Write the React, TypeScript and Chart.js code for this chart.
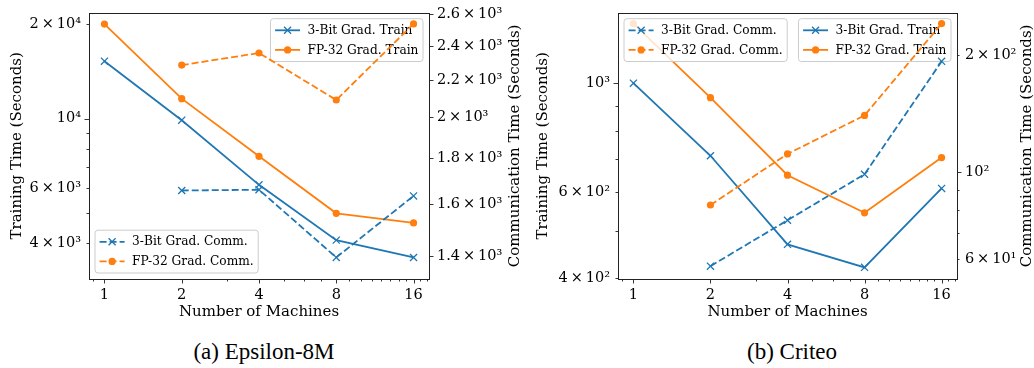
import React, { useEffect, useRef } from 'react';
import { Chart, registerables } from 'chart.js';

Chart.register(...registerables);

const BLUE = '#1f77b4';
const ORANGE = '#ff7f0e';
const SERIF = '"DejaVu Serif", serif';
const TICK_SIZE = 14.5;
const TITLE_SIZE = 15;
const LEGEND_SIZE = 12.2;

// ---------------- data ----------------
const machines = [1, 2, 4, 8, 16];
const commMachines = [2, 4, 8, 16];

// (a) Epsilon-8M
const epsilon3BitTrain = [15230, 9880, 6150, 4100, 3610];
const epsilonFp32Train = [20000, 11570, 7580, 4990, 4650];
const epsilon3BitComm = [1657, 1660, 1396, 1634];
const epsilonFp32Comm = [2284, 2356, 2089, 2538];

// (b) Criteo
const criteo3BitTrain = [1000, 711, 469, 421, 610];
const criteoFp32Train = [1322, 934, 649, 544, 705];
const criteo3BitComm = [57.5, 75.4, 98.9, 192.6];
const criteoFp32Comm = [82.5, 111.5, 140, 240.7];

const seriesLabels = ['3-Bit Grad. Train', 'FP-32 Grad. Train', '3-Bit Grad. Comm.', 'FP-32 Grad. Comm.'];
const captions = ['(a) Epsilon-8M', '(b) Criteo'];

// ticks
const xTickValues = [1, 2, 4, 8, 16];
const xTickLabels = ['1', '2', '4', '8', '16'];
const xMinorTickValues = [0.9, 3, 5, 6, 7, 9, 10, 11, 12, 13, 14, 15, 17, 18];

const epsilonTrainTickValues = [20000, 10000, 9000, 8000, 7000, 6000, 5000, 4000];
const epsilonTrainTickLabels = ['2\u2009×\u200910⁴', '10⁴', '', '', '', '6\u2009×\u200910³', '', '4\u2009×\u200910³'];
const epsilonTrainMajor = [10000];

const epsilonCommTickValues = [2600, 2400, 2200, 2000, 1800, 1600, 1400];
const epsilonCommTickLabels = ['2.6\u2009×\u200910³', '2.4\u2009×\u200910³', '2.2\u2009×\u200910³', '2\u2009×\u200910³', '1.8\u2009×\u200910³', '1.6\u2009×\u200910³', '1.4\u2009×\u200910³'];
const epsilonCommMajor = [2600, 2400, 2200, 2000, 1800, 1600, 1400];

const criteoTrainTickValues = [1000, 900, 800, 700, 600, 500, 400];
const criteoTrainTickLabels = ['10³', '', '', '', '6\u2009×\u200910²', '', '4\u2009×\u200910²'];
const criteoTrainMajor = [1000];

const criteoCommTickValues = [200, 100, 90, 80, 70, 60];
const criteoCommTickLabels = ['2\u2009×\u200910²', '10²', '', '', '', '6\u2009×\u200910¹'];
const criteoCommMajor = [100];

// axis ranges
const xRange = [Math.pow(2, -0.2), 16 * Math.pow(2, 0.2)];
const epsilonTrainRange = [3083, 21733];
const epsilonCommRange = [1321, 2612];
const criteoTrainRange = [398.6, 1392];
const criteoCommRange = [53.3, 256.7];

type AxisTicks = { values: number[]; labels: string[]; major: number[] };
type Corner = 'top-left' | 'top-right' | 'bottom-left' | 'bottom-right';

const CANVAS_H = 330;
const PLOT_BOTTOM = 279;

function labelFor(t: AxisTicks, v: number) {
  const i = t.values.findIndex((u) => Math.abs(u - v) / u < 1e-6);
  return i >= 0 ? t.labels[i] : '';
}

function drawLegend(chart: any, items: { label: string; color: string; dashed: boolean; marker: string }[], corner: Corner) {
  const ctx = chart.ctx as CanvasRenderingContext2D;
  const a = chart.chartArea;
  ctx.save();
  ctx.font = `${LEGEND_SIZE}px ${SERIF}`;
  const textW = Math.max(...items.map((it) => ctx.measureText(it.label).width));
  const pad = 4.6, handle = 25, gap = 7.5, rowH = 14, sp = 5.6, m = 6;
  const w = pad + handle + gap + textW + pad;
  const h = 2 * pad + items.length * rowH + (items.length - 1) * sp;
  const x = corner.endsWith('right') ? a.right - m - w : a.left + m;
  const y = corner.startsWith('top') ? a.top + m : a.bottom - m - h;
  ctx.beginPath();
  (ctx as any).roundRect(x, y, w, h, 3);
  ctx.fillStyle = 'rgba(255,255,255,0.8)';
  ctx.fill();
  ctx.strokeStyle = '#cccccc';
  ctx.lineWidth = 1;
  ctx.stroke();
  items.forEach((it, i) => {
    const cy = y + pad + rowH / 2 + i * (rowH + sp);
    const hx0 = x + pad, hx1 = hx0 + handle, cx = (hx0 + hx1) / 2;
    ctx.strokeStyle = it.color;
    ctx.lineWidth = 1.8;
    ctx.setLineDash(it.dashed ? [7, 3] : []);
    ctx.beginPath();
    ctx.moveTo(hx0, cy);
    ctx.lineTo(hx1, cy);
    ctx.stroke();
    ctx.setLineDash([]);
    if (it.marker === 'circle') {
      ctx.fillStyle = it.color;
      ctx.beginPath();
      ctx.arc(cx, cy, 3.6, 0, Math.PI * 2);
      ctx.fill();
    } else {
      ctx.lineWidth = 1.3;
      ctx.beginPath();
      ctx.moveTo(cx - 3.5, cy - 3.5); ctx.lineTo(cx + 3.5, cy + 3.5);
      ctx.moveTo(cx - 3.5, cy + 3.5); ctx.lineTo(cx + 3.5, cy - 3.5);
      ctx.stroke();
    }
    ctx.fillStyle = '#000';
    ctx.textBaseline = 'middle';
    ctx.textAlign = 'left';
    ctx.fillText(it.label, hx1 + gap, cy + 0.5);
  });
  ctx.restore();
}

interface PanelParams {
  train: number[][];
  comm: number[][];
  yRange: number[];
  y2Range: number[];
  yTicks: AxisTicks;
  y2Ticks: AxisTicks;
  leftW: number;
  rightW: number;
  leftTitlePad: number;
  rightTitleOffset: number;
  trainCorner: Corner;
  commCorner: Corner;
}

function buildConfig(p: PanelParams): any {
  const colors = [BLUE, ORANGE, BLUE, ORANGE];
  const markers = ['crossRot', 'circle', 'crossRot', 'circle'];
  const dashed = [false, false, true, true];
  const seriesData = [
    machines.map((m, i) => ({ x: m, y: p.train[0][i] })),
    machines.map((m, i) => ({ x: m, y: p.train[1][i] })),
    commMachines.map((m, i) => ({ x: m, y: p.comm[0][i] })),
    commMachines.map((m, i) => ({ x: m, y: p.comm[1][i] })),
  ];
  const datasets = seriesData.map((d, i) => ({
    label: seriesLabels[i],
    data: d,
    yAxisID: i < 2 ? 'y' : 'y2',
    order: 4 - i,
    borderColor: colors[i],
    backgroundColor: colors[i],
    borderWidth: 1.8,
    borderDash: dashed[i] ? [7, 3] : [],
    pointStyle: markers[i],
    pointRadius: markers[i] === 'circle' ? 3.6 : 5,
    pointBorderWidth: markers[i] === 'circle' ? 0 : 1.3,
    pointBackgroundColor: colors[i],
    pointBorderColor: colors[i],
    tension: 0,
    fill: false,
  }));
  const legendItems = seriesLabels.map((label, i) => ({ label, color: colors[i], dashed: dashed[i], marker: markers[i] }));
  const xTicks: AxisTicks = { values: xTickValues, labels: xTickLabels, major: xTickValues };

  const plugin = {
    id: 'panelDecor',
    afterDatasetDraw(chart: any, args: any) {
      if (args.index === 1) drawLegend(chart, legendItems.slice(0, 2), p.trainCorner);
    },
    afterDatasetsDraw(chart: any) {
      drawLegend(chart, legendItems.slice(2), p.commCorner);
    },
    afterDraw(chart: any) {
      const ctx = chart.ctx as CanvasRenderingContext2D;
      const a = chart.chartArea;
      ctx.save();
      ctx.strokeStyle = '#222';
      ctx.lineWidth = 1;
      ctx.strokeRect(Math.round(a.left) + 0.5, Math.round(a.top) + 0.5, Math.round(a.right - a.left), Math.round(a.bottom - a.top));
      const xs = chart.scales.x, ys = chart.scales.y, y2s = chart.scales.y2;
      const MAJ = 4.5, MIN = 2.5;
      ctx.lineWidth = 0.9;
      ctx.beginPath();
      const drawX = (v: number, len: number) => {
        const px = Math.round(xs.getPixelForValue(v)) + 0.5;
        ctx.moveTo(px, a.bottom); ctx.lineTo(px, a.bottom + len);
      };
      xTickValues.forEach((v) => drawX(v, MAJ));
      xMinorTickValues.forEach((v) => drawX(v, MIN));
      p.yTicks.values.forEach((v) => {
        const py = Math.round(ys.getPixelForValue(v)) + 0.5;
        const len = p.yTicks.major.includes(v) ? MAJ : MIN;
        ctx.moveTo(a.left - len, py); ctx.lineTo(a.left, py);
      });
      p.y2Ticks.values.forEach((v) => {
        const py = Math.round(y2s.getPixelForValue(v)) + 0.5;
        const len = p.y2Ticks.major.includes(v) ? MAJ : MIN;
        ctx.moveTo(a.right, py); ctx.lineTo(a.right + len, py);
      });
      ctx.stroke();
      // right axis title (reads bottom-to-top like matplotlib)
      ctx.translate(chart.width - p.rightTitleOffset, (a.top + a.bottom) / 2);
      ctx.rotate(-Math.PI / 2);
      ctx.textAlign = 'center';
      ctx.textBaseline = 'middle';
      ctx.font = `${TITLE_SIZE}px ${SERIF}`;
      ctx.fillStyle = '#000';
      ctx.fillText('Communication Time (Seconds)', 0, 0);
      ctx.restore();
    },
  };

  const gridOpts = { display: true, drawOnChartArea: false, drawTicks: true, tickLength: 4, tickColor: 'rgba(0,0,0,0)' };
  const tickFont = { family: SERIF, size: TICK_SIZE };

  return {
    type: 'line',
    data: { datasets },
    plugins: [plugin],
    options: {
      animation: false,
      responsive: false,
      maintainAspectRatio: false,
      layout: { padding: { top: 4, left: 0, right: 0, bottom: 0 } },
      plugins: { legend: { display: false }, tooltip: { enabled: false } },
      scales: {
        x: {
          type: 'logarithmic',
          min: xRange[0],
          max: xRange[1],
          afterBuildTicks: (s: any) => { s.ticks = xTicks.values.map((v) => ({ value: v })); },
          afterFit: (s: any) => { s.height = CANVAS_H - PLOT_BOTTOM; },
          ticks: { autoSkip: false, maxRotation: 0, padding: 3.5, color: '#000', font: tickFont, callback: (v: any) => labelFor(xTicks, Number(v)) },
          grid: gridOpts,
          border: { display: false },
          title: { display: true, text: 'Number of Machines', color: '#000', font: { family: SERIF, size: TITLE_SIZE, lineHeight: 1 }, padding: { top: 0, bottom: 10.5 } },
        },
        y: {
          type: 'logarithmic',
          position: 'left',
          min: p.yRange[0],
          max: p.yRange[1],
          afterBuildTicks: (s: any) => { s.ticks = p.yTicks.values.map((v) => ({ value: v })); },
          afterFit: (s: any) => { s.width = p.leftW; },
          ticks: { autoSkip: false, padding: 4, color: '#000', font: tickFont, callback: (v: any) => labelFor(p.yTicks, Number(v)) },
          grid: gridOpts,
          border: { display: false },
          title: { display: true, text: 'Training Time (Seconds)', color: '#000', font: { family: SERIF, size: TITLE_SIZE, lineHeight: 1 }, padding: { top: p.leftTitlePad, bottom: 0 } },
        },
        y2: {
          type: 'logarithmic',
          position: 'right',
          min: p.y2Range[0],
          max: p.y2Range[1],
          afterBuildTicks: (s: any) => { s.ticks = p.y2Ticks.values.map((v) => ({ value: v })); },
          afterFit: (s: any) => { s.width = p.rightW; },
          ticks: { autoSkip: false, padding: 4, color: '#000', font: tickFont, callback: (v: any) => labelFor(p.y2Ticks, Number(v)) },
          grid: gridOpts,
          border: { display: false },
          title: { display: false },
        },
      },
    },
  };
}

function Panel({ width, params }: { width: number; params: PanelParams }) {
  const ref = useRef<HTMLCanvasElement | null>(null);
  useEffect(() => {
    if (!ref.current) return;
    const chart = new Chart(ref.current, buildConfig(params));
    return () => chart.destroy();
  }, []);
  return <canvas ref={ref} width={width} height={CANVAS_H} style={{ width: `${width}px`, height: `${CANVAS_H}px`, display: 'block' }} />;
}

const epsilonParams: PanelParams = {
  train: [epsilon3BitTrain, epsilonFp32Train],
  comm: [epsilon3BitComm, epsilonFp32Comm],
  yRange: epsilonTrainRange,
  y2Range: epsilonCommRange,
  yTicks: { values: epsilonTrainTickValues, labels: epsilonTrainTickLabels, major: epsilonTrainMajor },
  y2Ticks: { values: epsilonCommTickValues, labels: epsilonCommTickLabels, major: epsilonCommMajor },
  leftW: 89,
  rightW: 101,
  leftTitlePad: 9.5,
  rightTitleOffset: 15,
  trainCorner: 'top-right',
  commCorner: 'bottom-left',
};

const criteoParams: PanelParams = {
  train: [criteo3BitTrain, criteoFp32Train],
  comm: [criteo3BitComm, criteoFp32Comm],
  yRange: criteoTrainRange,
  y2Range: criteoCommRange,
  yTicks: { values: criteoTrainTickValues, labels: criteoTrainTickLabels, major: criteoTrainMajor },
  y2Ticks: { values: criteoCommTickValues, labels: criteoCommTickLabels, major: criteoCommMajor },
  leftW: 88,
  rightW: 77,
  leftTitlePad: 5.8,
  rightTitleOffset: 7.3,
  trainCorner: 'top-right',
  commCorner: 'top-left',
};

export default function App() {
  const captionStyle = (cx: number): React.CSSProperties => ({
    position: 'absolute',
    left: cx - 150,
    width: 300,
    top: 340,
    height: 24,
    lineHeight: '24px',
    textAlign: 'center',
    fontFamily: '"Liberation Serif", "Times New Roman", serif',
    fontSize: '23px',
    color: '#000',
    whiteSpace: 'nowrap',
  });
  return (
    <div style={{ position: 'absolute', left: 0, top: 0, width: 1034, height: 368, background: '#fff', overflow: 'hidden' }}>
      <div style={{ position: 'absolute', left: 0, top: 0 }}>
        <Panel width={530} params={epsilonParams} />
      </div>
      <div style={{ position: 'absolute', left: 530, top: 0 }}>
        <Panel width={504} params={criteoParams} />
      </div>
      <div style={captionStyle(264)}>{captions[0]}</div>
      <div style={captionStyle(792)}>{captions[1]}</div>
    </div>
  );
}
